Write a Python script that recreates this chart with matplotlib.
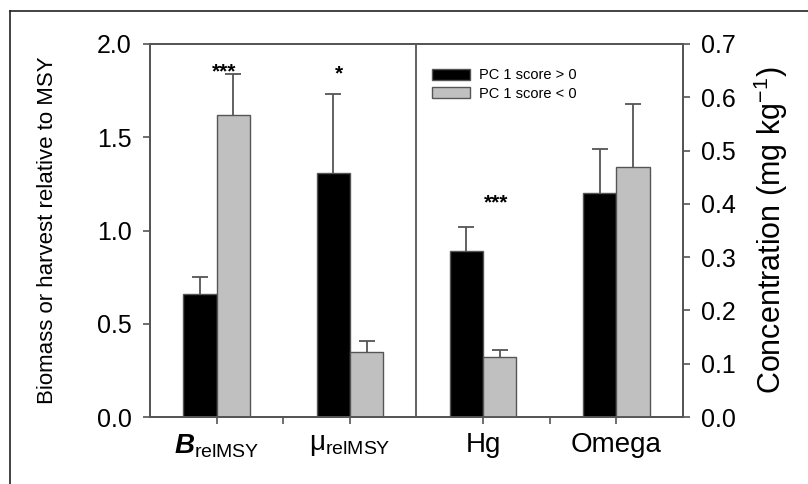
import matplotlib.pyplot as plt
import numpy as np
from matplotlib.lines import Line2D

plt.rcParams['font.family'] = ['Liberation Sans', 'DejaVu Sans']
plt.rcParams['mathtext.fontset'] = 'custom'
plt.rcParams['mathtext.rm'] = 'Liberation Sans'
plt.rcParams['mathtext.it'] = 'Liberation Sans:italic:bold'

# left panel: biomass / harvest relative to MSY
left_pos = [1, 2]
left_pos_mean = [0.66, 1.31]
left_pos_err = [0.09, 0.42]
left_neg_mean = [1.62, 0.35]
left_neg_err = [0.22, 0.06]
left_stars = ['***', '*']

# right panel: concentrations (mg/kg)
right_pos = [3, 4]
right_pos_mean = [0.312, 0.421]
right_pos_err = [0.045, 0.082]
right_neg_mean = [0.113, 0.470]
right_neg_err = [0.013, 0.117]
right_stars = ['***', '']

labels = [r'$\mathit{B}_{\mathrm{relMSY}}$', r'$\mathrm{\mu}_{\mathrm{relMSY}}$', 'Hg', 'Omega']

black = '#000000'
grey = '#c0c0c0'
edge = '#555555'
w = 0.25
cap = 0.06


def bars_with_err(a, xc, mean, err, color, label=None):
    mean = np.array(mean)
    err = np.array(err)
    a.vlines(xc, mean, mean + err, color=edge, linewidth=1.3, zorder=1)
    a.hlines(mean + err, xc - cap, xc + cap, color=edge, linewidth=1.3, zorder=1)
    a.bar(xc, mean, w, color=color, edgecolor=edge, linewidth=1, label=label, zorder=2)


fig = plt.figure(figsize=(8.08, 4.84), dpi=100)
ax = fig.add_axes([0.1856, 0.1384, 0.6597, 0.7707])
ax2 = ax.twinx()

x = np.array(left_pos)
bars_with_err(ax, x - w / 2, left_pos_mean, left_pos_err, black, 'PC 1 score > 0')
bars_with_err(ax, x + w / 2, left_neg_mean, left_neg_err, grey, 'PC 1 score < 0')

x2 = np.array(right_pos)
bars_with_err(ax2, x2 - w / 2, right_pos_mean, right_pos_err, black)
bars_with_err(ax2, x2 + w / 2, right_neg_mean, right_neg_err, grey)

# significance stars
star_kw = dict(ha='center', va='center', fontsize=15, fontweight='bold', zorder=3)
ax.text(1.06, 1.85, left_stars[0], **star_kw)
ax.text(1.92, 1.84, left_stars[1], **star_kw)
ax2.text(3.10, 0.402, right_stars[0], **star_kw)

ax.axvline(2.5, color=edge, linewidth=1.3)

ax.set_xlim(0.5, 4.5)
ax.set_ylim(0, 2.0)
ax2.set_ylim(0, 0.7)
ax.set_yticks(np.arange(0, 2.01, 0.5))
ax.set_yticklabels(['%.1f' % v for v in np.arange(0, 2.01, 0.5)])
ax2.set_yticks(np.arange(0, 0.71, 0.1))
ax2.set_yticklabels(['%.1f' % v for v in np.arange(0, 0.71, 0.1)])
ax.set_xticks([1, 2, 3, 4])
ax.set_xticklabels(labels, fontsize=20)
ax.set_xticks([1.5, 3.5], minor=True)

for a in (ax, ax2):
    for s in a.spines.values():
        s.set_color(edge)
        s.set_linewidth(1.3)
    a.tick_params(axis='y', labelsize=18, color=edge, width=1.2, length=5, pad=8)
ax.tick_params(axis='x', which='both', color=edge, width=1.2, length=5, pad=6)

ax.set_ylabel('Biomass or harvest relative to MSY', fontsize=16, labelpad=28)
ax2.set_ylabel(r'Concentration (mg kg$^{-1}$)', fontsize=22, labelpad=11)

ax.legend(loc='upper left', bbox_to_anchor=(0.505, 0.97), frameon=False,
          fontsize=10.5, handlelength=2.6, handleheight=0.8, labelspacing=0.3,
          handletextpad=0.6)

# outer frame of the figure
fig.add_artist(Line2D([10 / 808, 10 / 808], [0, 1 - 11 / 484], color='#222222', lw=1.2))
fig.add_artist(Line2D([10 / 808, 1], [1 - 11 / 484, 1 - 11 / 484], color='#222222', lw=1.2))

fig.savefig('out.png', dpi=100)
